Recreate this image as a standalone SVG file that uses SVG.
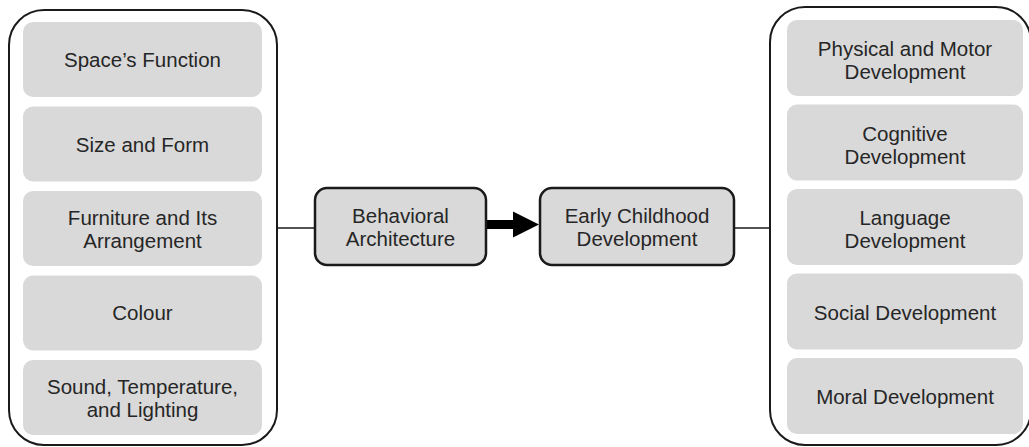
<svg xmlns="http://www.w3.org/2000/svg" width="1029" height="447" viewBox="0 0 1029 447">
<style>
.container{fill:#ffffff;stroke:#1a1a1a;stroke-width:2}
.item{fill:#d9d9d9;stroke:none}
.main{fill:#d9d9d9;stroke:#1a1a1a;stroke-width:2.5}
.t{font-family:"Liberation Sans",Arial,sans-serif;font-size:20.5px;fill:#262626;text-anchor:middle}
.line{stroke:#1a1a1a;stroke-width:1.6;fill:none}
</style>
<rect width="1029" height="447" fill="#ffffff"/>
<g id="connectors">
<line class="line" x1="277" y1="228" x2="315" y2="228"/>
<line class="line" x1="734" y1="228" x2="770" y2="228"/>
<polygon points="486,220 513,220 513,211.5 539,224.5 513,237.5 513,229 486,229" fill="#000000"/>
</g>
<g id="left-group">
<rect class="container" x="9" y="10" width="268" height="435" rx="35" ry="35"/>
<g id="space-function"><rect class="item" x="23" y="22" width="239" height="75" rx="10"/><text class="t" x="142.5" y="67">Space’s Function</text></g>
<g id="size-form"><rect class="item" x="23" y="106.5" width="239" height="75" rx="10"/><text class="t" x="142.5" y="151.5">Size and Form</text></g>
<g id="furniture"><rect class="item" x="23" y="191" width="239" height="75" rx="10"/><text class="t" x="142.5" y="225">Furniture and Its</text><text class="t" x="142.5" y="248">Arrangement</text></g>
<g id="colour"><rect class="item" x="23" y="275.5" width="239" height="75" rx="10"/><text class="t" x="142.5" y="320">Colour</text></g>
<g id="sound"><rect class="item" x="23" y="360" width="239" height="75" rx="10"/><text class="t" x="142.5" y="393.5">Sound, Temperature,</text><text class="t" x="142.5" y="417">and Lighting</text></g>
</g>
<g id="behavioral-architecture">
<rect class="main" x="315" y="188" width="171" height="77" rx="12"/>
<text class="t" x="400.5" y="223">Behavioral</text>
<text class="t" x="400.5" y="246">Architecture</text>
</g>
<g id="early-childhood-development">
<rect class="main" x="540" y="188" width="194" height="77" rx="12"/>
<text class="t" x="637" y="223">Early Childhood</text>
<text class="t" x="637" y="246">Development</text>
</g>
<g id="right-group">
<rect class="container" x="770" y="7" width="261" height="438" rx="35" ry="35"/>
<g id="physical"><rect class="item" x="787" y="20" width="236" height="76" rx="10"/><text class="t" x="905" y="56">Physical and Motor</text><text class="t" x="905" y="79">Development</text></g>
<g id="cognitive"><rect class="item" x="787" y="104.5" width="236" height="76" rx="10"/><text class="t" x="905" y="140.5">Cognitive</text><text class="t" x="905" y="163.5">Development</text></g>
<g id="language"><rect class="item" x="787" y="189" width="236" height="76" rx="10"/><text class="t" x="905" y="225">Language</text><text class="t" x="905" y="248">Development</text></g>
<g id="social"><rect class="item" x="787" y="273.5" width="236" height="76" rx="10"/><text class="t" x="905" y="319.5">Social Development</text></g>
<g id="moral"><rect class="item" x="787" y="358" width="236" height="76" rx="10"/><text class="t" x="905" y="404">Moral Development</text></g>
</g>
</svg>
